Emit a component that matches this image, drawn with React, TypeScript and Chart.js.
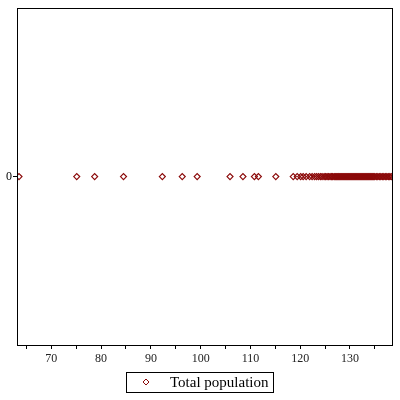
import React, { useEffect, useRef } from "react";
import { Chart, registerables } from "chart.js";

Chart.register(...registerables);

const seriesName = "Total population";
const xTickValues = [70, 80, 90, 100, 110, 120, 130];
const xMin = 63.1;
const xMax = 138.45;
const populationValues = [
  63.5, 75.1, 78.7, 84.5, 92.3, 96.3, 99.3, 105.9, 108.5, 110.8, 111.6, 115.1,
  118.6, 119.4, 120.1, 120.6, 121.2, 121.9, 122.4, 122.9, 123.3, 123.7, 124.1,
  124.4, 124.8, 125.1, 125.4, 125.7, 126.0, 126.3, 126.5, 126.8, 127.0, 127.2,
  127.4, 127.6, 127.8, 128.0, 128.2, 128.4, 128.6, 128.8, 129.0, 129.2, 129.4,
  129.6, 129.8, 130.0, 130.2, 130.4, 130.6, 130.8, 131.0, 131.2, 131.4, 131.6,
  131.8, 132.0, 132.2, 132.4, 132.6, 132.8, 133.0, 133.2, 133.4, 133.6, 133.8,
  134.0, 134.2, 134.4, 134.6, 134.8, 135.0, 135.3, 135.6, 135.9, 136.2, 136.5,
  136.8, 137.1, 137.4, 137.7, 138.0, 138.3,
];

const markerColor = "#8B0A0A";
const serif = "'Liberation Serif', 'Times New Roman', serif";

export default function App() {
  const ref = useRef<HTMLCanvasElement | null>(null);
  useEffect(() => {
    if (!ref.current) return;
    const framePlugin = {
      id: "frameAndLegend",
      afterDraw(chart: any) {
        const { ctx, chartArea } = chart;
        ctx.save();
        ctx.strokeStyle = "#000";
        ctx.lineWidth = 1;
        ctx.strokeRect(
          Math.round(chartArea.left) + 0.5,
          Math.round(chartArea.top) + 0.5,
          Math.round(chartArea.right - chartArea.left),
          Math.round(chartArea.bottom - chartArea.top)
        );
        // legend
        const bx = 126.5, by = 372.5, bw = 147, bh = 20;
        ctx.strokeRect(bx, by, bw, bh);
        const cx = 146, cy = 382;
        ctx.strokeStyle = markerColor;
        ctx.beginPath();
        ctx.moveTo(cx, cy - 3);
        ctx.lineTo(cx + 3, cy);
        ctx.lineTo(cx, cy + 3);
        ctx.lineTo(cx - 3, cy);
        ctx.closePath();
        ctx.stroke();
        ctx.fillStyle = "#000";
        ctx.font = "15px " + serif;
        ctx.textBaseline = "middle";
        ctx.textAlign = "left";
        ctx.fillText(seriesName, 170, cy + 1);
        ctx.restore();
      },
    };
    const chart = new Chart(ref.current, {
      type: "scatter",
      data: {
        datasets: [
          {
            label: seriesName,
            data: populationValues.map((v) => ({ x: v, y: 0 })),
            pointStyle: "rectRot",
            pointRadius: 3,
            pointBorderWidth: 1.2,
            borderColor: markerColor,
            backgroundColor: "rgba(0,0,0,0)",
            pointBackgroundColor: "rgba(0,0,0,0)",
            pointBorderColor: markerColor,
          },
        ],
      },
      options: {
        responsive: false,
        animation: false,
        layout: { padding: { left: 0, top: 4, right: 8, bottom: 0 } },
        plugins: { legend: { display: false }, tooltip: { enabled: false } },
        scales: {
          x: {
            type: "linear",
            min: xMin,
            max: xMax,
            afterFit: (s: any) => {
              s.height = 55;
            },
            afterBuildTicks: (s: any) => {
              const t: any[] = [];
              for (let v = 65; v <= 135; v += 5) t.push({ value: v });
              s.ticks = t;
            },
            ticks: {
              autoSkip: false,
              maxRotation: 0,
              padding: 3,
              color: "#222",
              font: { family: serif, size: 12 },
              callback: (v: any) => (xTickValues.includes(Number(v)) ? String(v) : ""),
            },
            grid: {
              drawOnChartArea: false,
              drawTicks: true,
              tickLength: 4,
              color: "#000",
            },
            border: { display: false },
          },
          y: {
            type: "linear",
            min: -1,
            max: 1,
            afterFit: (s: any) => {
              s.width = 17;
            },
            afterBuildTicks: (s: any) => {
              s.ticks = [{ value: 0 }];
            },
            ticks: {
              padding: 1,
              color: "#000",
              font: { family: serif, size: 12 },
              callback: () => "0",
            },
            grid: {
              drawOnChartArea: false,
              drawTicks: true,
              tickLength: 4,
              color: "#000",
            },
            border: { display: false },
          },
        },
      },
      plugins: [framePlugin],
    });
    return () => chart.destroy();
  }, []);
  return (
    <div style={{ position: "fixed", left: 0, top: 0, width: 400, height: 400, background: "#fff" }}>
      <canvas ref={ref} width={400} height={400} />
    </div>
  );
}
